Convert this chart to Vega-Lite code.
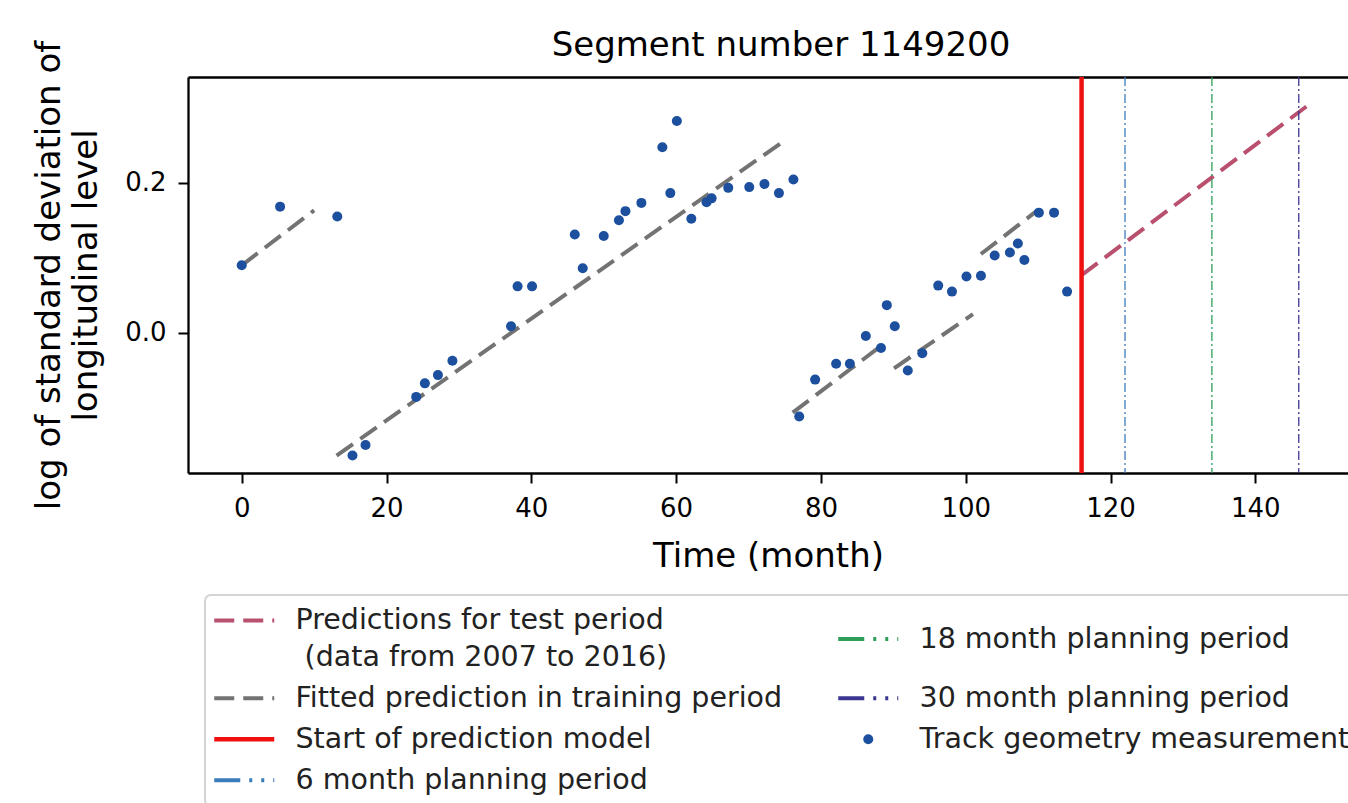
{
  "$schema": "https://vega.github.io/schema/vega-lite/v6.json",
  "width": 1160,
  "height": 396,
  "autosize": {"type": "none"},
  "padding": {"left": 188, "top": 77, "right": 0, "bottom": 330},
  "background": "white",
  "title": {"text": "Segment number 1149200", "fontSize": 34, "fontWeight": "normal", "font": "DejaVu Sans", "color": "black", "offset": -23, "dx": 13, "anchor": "middle"},
  "datasets": {
    "fits": [
      {"series": "Fitted prediction in training period", "seg": "A", "t": 0, "v": 0.090},
      {"series": "Fitted prediction in training period", "seg": "A", "t": 10.0, "v": 0.163},
      {"series": "Fitted prediction in training period", "seg": "B", "t": 13.1, "v": -0.163},
      {"series": "Fitted prediction in training period", "seg": "B", "t": 74.4, "v": 0.252},
      {"series": "Fitted prediction in training period", "seg": "C", "t": 76.1, "v": -0.106},
      {"series": "Fitted prediction in training period", "seg": "C", "t": 88.2, "v": -0.018},
      {"series": "Fitted prediction in training period", "seg": "D", "t": 90.1, "v": -0.047},
      {"series": "Fitted prediction in training period", "seg": "D", "t": 101.0, "v": 0.025},
      {"series": "Fitted prediction in training period", "seg": "E", "t": 102.1, "v": 0.105},
      {"series": "Fitted prediction in training period", "seg": "E", "t": 109.9, "v": 0.163},
      {"series": "Predictions for test period\n (data from 2007 to 2016)", "seg": "P", "t": 116.0, "v": 0.077},
      {"series": "Predictions for test period\n (data from 2007 to 2016)", "seg": "P", "t": 148.0, "v": 0.308}
    ],
    "plans": [
      {"series": "6 month planning period", "t": 122},
      {"series": "18 month planning period", "t": 134},
      {"series": "30 month planning period", "t": 146}
    ],
    "start": [
      {"series": "Start of prediction model", "t": 116}
    ],
    "points": [
      {"series": "Track geometry measurement", "t": 0, "v": 0.090},
      {"series": "Track geometry measurement", "t": 5.3, "v": 0.168},
      {"series": "Track geometry measurement", "t": 13.2, "v": 0.155},
      {"series": "Track geometry measurement", "t": 15.3, "v": -0.163},
      {"series": "Track geometry measurement", "t": 17.1, "v": -0.149},
      {"series": "Track geometry measurement", "t": 24.1, "v": -0.085},
      {"series": "Track geometry measurement", "t": 25.3, "v": -0.067},
      {"series": "Track geometry measurement", "t": 27.1, "v": -0.056},
      {"series": "Track geometry measurement", "t": 29.1, "v": -0.037},
      {"series": "Track geometry measurement", "t": 37.2, "v": 0.009},
      {"series": "Track geometry measurement", "t": 38.1, "v": 0.062},
      {"series": "Track geometry measurement", "t": 40.1, "v": 0.062},
      {"series": "Track geometry measurement", "t": 46.0, "v": 0.131},
      {"series": "Track geometry measurement", "t": 47.1, "v": 0.086},
      {"series": "Track geometry measurement", "t": 50.0, "v": 0.129},
      {"series": "Track geometry measurement", "t": 52.1, "v": 0.150},
      {"series": "Track geometry measurement", "t": 53.0, "v": 0.162},
      {"series": "Track geometry measurement", "t": 55.2, "v": 0.173},
      {"series": "Track geometry measurement", "t": 58.1, "v": 0.247},
      {"series": "Track geometry measurement", "t": 59.2, "v": 0.186},
      {"series": "Track geometry measurement", "t": 60.1, "v": 0.282},
      {"series": "Track geometry measurement", "t": 62.1, "v": 0.152},
      {"series": "Track geometry measurement", "t": 64.2, "v": 0.174},
      {"series": "Track geometry measurement", "t": 64.9, "v": 0.179},
      {"series": "Track geometry measurement", "t": 67.2, "v": 0.193},
      {"series": "Track geometry measurement", "t": 70.1, "v": 0.194},
      {"series": "Track geometry measurement", "t": 72.2, "v": 0.198},
      {"series": "Track geometry measurement", "t": 74.2, "v": 0.186},
      {"series": "Track geometry measurement", "t": 76.2, "v": 0.204},
      {"series": "Track geometry measurement", "t": 77.0, "v": -0.111},
      {"series": "Track geometry measurement", "t": 79.2, "v": -0.062},
      {"series": "Track geometry measurement", "t": 82.1, "v": -0.041},
      {"series": "Track geometry measurement", "t": 84.0, "v": -0.041},
      {"series": "Track geometry measurement", "t": 86.2, "v": -0.004},
      {"series": "Track geometry measurement", "t": 88.3, "v": -0.020},
      {"series": "Track geometry measurement", "t": 89.1, "v": 0.037},
      {"series": "Track geometry measurement", "t": 90.2, "v": 0.009},
      {"series": "Track geometry measurement", "t": 92.0, "v": -0.050},
      {"series": "Track geometry measurement", "t": 94.0, "v": -0.027},
      {"series": "Track geometry measurement", "t": 96.2, "v": 0.063},
      {"series": "Track geometry measurement", "t": 98.1, "v": 0.055},
      {"series": "Track geometry measurement", "t": 100.1, "v": 0.075},
      {"series": "Track geometry measurement", "t": 102.1, "v": 0.076},
      {"series": "Track geometry measurement", "t": 104.0, "v": 0.103},
      {"series": "Track geometry measurement", "t": 106.1, "v": 0.107},
      {"series": "Track geometry measurement", "t": 107.2, "v": 0.119},
      {"series": "Track geometry measurement", "t": 108.1, "v": 0.097},
      {"series": "Track geometry measurement", "t": 110.1, "v": 0.160},
      {"series": "Track geometry measurement", "t": 112.2, "v": 0.160},
      {"series": "Track geometry measurement", "t": 114.0, "v": 0.055}
    ]
  },
  "layer": [
    {
      "data": {"name": "fits"},
      "mark": {"type": "line", "strokeWidth": 4, "strokeDash": [20, 9]},
      "encoding": {
        "x": {"field": "t", "type": "quantitative", "scale": {"domain": [-7.42, 152.8], "nice": false, "zero": false},
              "axis": {"orient": "bottom", "title": "Time (month)", "values": [0, 20, 40, 60, 80, 100, 120, 140], "format": "d", "titlePadding": 18}},
        "y": {"field": "v", "type": "quantitative", "scale": {"domain": [-0.1862, 0.3404], "nice": false, "zero": false},
              "axis": {"title": ["log of standard deviation of", "longitudinal level"], "values": [0, 0.2], "format": ".1f", "titlePadding": 21, "titleLineHeight": 37.5}},
        "detail": {"field": "seg"},
        "color": {
          "field": "series", "type": "nominal",
          "scale": {
            "domain": ["Predictions for test period\n (data from 2007 to 2016)", "Fitted prediction in training period", "Start of prediction model", "6 month planning period", "18 month planning period", "30 month planning period", "Track geometry measurement"],
            "range": ["#b8506e", "#737373", "#f01010", "#3a7dbb", "#2e9e58", "#3b3791", "#1c4f9e"]
          },
          "legend": {
            "orient": "none", "legendX": 17, "legendY": 518, "title": null, "columns": 2, "columnPadding": 47, "rowPadding": 12,
            "labelOffset": 37, "labelLimit": 900, "labelFontSize": 28.5, "labelFont": "DejaVu Sans", "labelColor": "#222222",
            "symbolSize": 3600, "symbolOffset": 14, "padding": 11, "gridAlign": "each",
            "labelExpr": "indexof(datum.label, '\\n') >= 0 ? [split(datum.label, '\\n')[0], '\u200b' + split(datum.label, '\\n')[1]] : datum.label",
            "encode": {
              "legend": {"update": {"stroke": {"value": "#d4d4d4"}, "strokeWidth": {"value": 2}, "cornerRadius": {"value": 6}, "fill": {"value": "white"}}},
              "labels": {"update": {"lineHeight": {"value": 37}}},
              "symbols": {"update": {
                "shape": {"signal": "datum.value === 'Track geometry measurement' ? 'circle' : 'stroke'"},
                "size": {"signal": "datum.value === 'Track geometry measurement' ? 100 : 3600"},
                "strokeDash": {"signal": "indexof(datum.value, 'planning') >= 0 ? [26, 9, 3, 9, 3, 9] : (datum.value === 'Track geometry measurement' || datum.value === 'Start of prediction model') ? [1, 0] : [20, 9]"},
                "strokeWidth": {"signal": "datum.value === 'Track geometry measurement' ? 0 : datum.value === 'Start of prediction model' ? 4.5 : 4"},
                "fill": {"signal": "datum.value === 'Track geometry measurement' ? '#1c4f9e' : 'transparent'"},
                "stroke": {"signal": "datum.value === 'Track geometry measurement' ? '#1c4f9e' : datum.value === 'Start of prediction model' ? '#d81c2c' : datum.value === '6 month planning period' ? '#3a7dbb' : datum.value === '18 month planning period' ? '#2e9e58' : datum.value === '30 month planning period' ? '#3b3791' : datum.value === 'Fitted prediction in training period' ? '#737373' : '#b8506e'"},
                "opacity": {"value": 1}
              }}
            }
          }
        }
      }
    },
    {
      "data": {"name": "plans"},
      "mark": {"type": "rule", "strokeWidth": 1.3, "strokeDash": [9, 3, 2, 3]},
      "encoding": {
        "x": {"field": "t", "type": "quantitative", "scale": {"domain": [-7.42, 152.8], "nice": false, "zero": false},
              "axis": {"orient": "top", "labels": false, "ticks": false, "title": null, "domain": true, "grid": false}},
        "color": {"field": "series", "type": "nominal"}
      }
    },
    {
      "data": {"name": "start"},
      "mark": {"type": "rule", "strokeWidth": 4.5},
      "encoding": {
        "x": {"field": "t", "type": "quantitative", "axis": null},
        "color": {"field": "series", "type": "nominal"}
      }
    },
    {
      "data": {"name": "points"},
      "mark": {"type": "point", "filled": true, "size": 100, "opacity": 1},
      "encoding": {
        "x": {"field": "t", "type": "quantitative", "axis": null},
        "y": {"field": "v", "type": "quantitative"},
        "color": {"field": "series", "type": "nominal"}
      }
    }
  ],
  "resolve": {"axis": {"x": "independent"}},
  "config": {
    "view": {"stroke": null},
    "font": "DejaVu Sans",
    "axis": {
      "labelFont": "DejaVu Sans", "labelFontSize": 26, "labelColor": "black", "labelPadding": 12,
      "tickSize": 10, "tickWidth": 2, "tickColor": "black",
      "domainColor": "black", "domainWidth": 2.3, "grid": false,
      "titleFont": "DejaVu Sans", "titleFontSize": 34, "titleFontWeight": "normal", "titleColor": "black"
    }
  }
}
